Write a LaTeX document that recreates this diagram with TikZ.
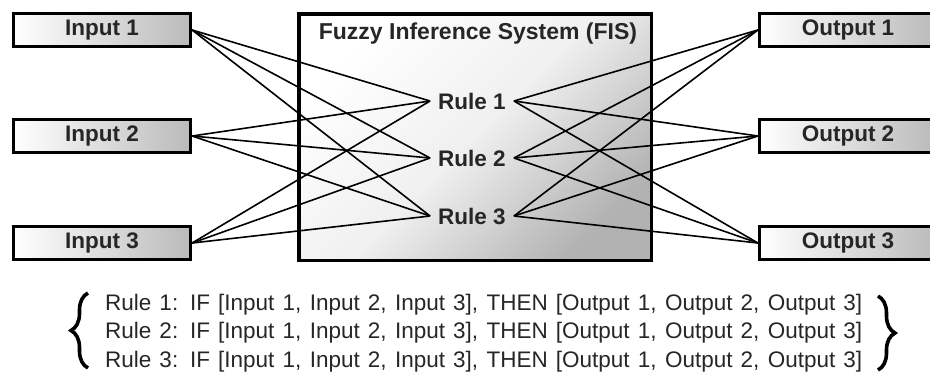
\documentclass[tikz,border=0pt]{standalone}
\usepackage{fontspec}
\setmainfont{Liberation Sans}
\usetikzlibrary{decorations.pathreplacing}
\begin{document}
\begin{tikzpicture}[x=1pt,y=-1pt,
  iobox/.style={draw=black, line width=3.2pt, minimum width=177pt, minimum height=33pt,
    inner sep=0pt, left color=white, right color=black!27,
    font=\fontsize{22.5}{26}\selectfont\bfseries, text=black!85},
  fisbox/.style={draw=black, line width=3.5pt, minimum width=352.5pt, minimum height=246.5pt,
    inner sep=0pt, top color=white, bottom color=black!30, middle color=black!6, shading angle=45},
  rulelbl/.style={font=\fontsize{22.5}{26}\selectfont\bfseries, text=black!85,
    inner xsep=8pt, inner ysep=0pt},
  link/.style={line width=1.6pt},
  ruletext/.style={font=\fontsize{22.5}{26}\selectfont, anchor=base west, inner sep=0pt, text=black!85},
  curly/.style={decorate, decoration={brace, amplitude=17pt}, line width=3.6pt}]

\useasboundingbox (0,0) rectangle (930,381);

% central inference block
\node[fisbox] (fis) at (475,137) {};
\node[font=\fontsize{23}{26}\selectfont\bfseries, text=black!85, anchor=base]
  (title) at (478,39) {Fuzzy Inference System (FIS)};

% rules
\node[rulelbl] (r1) at (472,101) {Rule 1};
\node[rulelbl] (r2) at (472,158) {Rule 2};
\node[rulelbl] (r3) at (472,216) {Rule 3};

% inputs and outputs
\node[iobox] (i1) at (102,30)  {Input 1};
\node[iobox] (i2) at (102,136) {Input 2};
\node[iobox] (i3) at (102,243) {Input 3};
\node[iobox] (o1) at (848,30)  {Output 1};
\node[iobox] (o2) at (848,136) {Output 2};
\node[iobox] (o3) at (848,243) {Output 3};

% every input feeds every rule, every rule feeds every output
\foreach \i in {1,2,3}{
  \foreach \r in {1,2,3}{
    \draw[link] (i\i.east) -- (r\r.west);
    \draw[link] (r\r.east) -- (o\i.west);
  }
}

% rule base listing
\node[ruletext] (t1) at (105,310)
  {\makebox[757pt][s]{Rule 1: IF [Input 1, Input 2, Input 3], THEN [Output 1, Output 2, Output 3]}};
\node[ruletext] (t2) at (105,338.5)
  {\makebox[757pt][s]{Rule 2: IF [Input 1, Input 2, Input 3], THEN [Output 1, Output 2, Output 3]}};
\node[ruletext] (t3) at (105,367)
  {\makebox[757pt][s]{Rule 3: IF [Input 1, Input 2, Input 3], THEN [Output 1, Output 2, Output 3]}};

\draw[curly] (88,368) -- (88,293);
\draw[curly] (878,296) -- (878,370);
\end{tikzpicture}
\end{document}
